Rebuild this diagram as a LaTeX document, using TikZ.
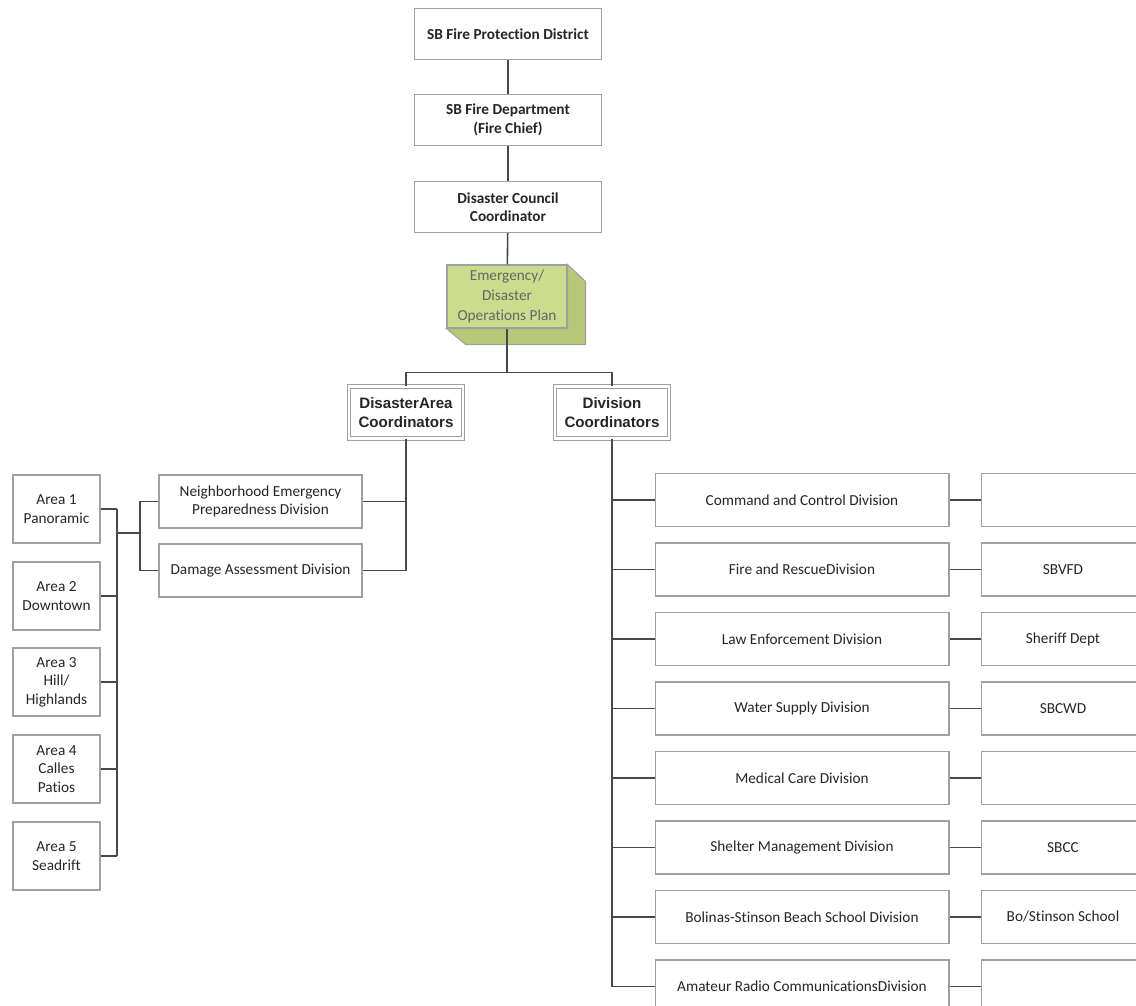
\documentclass[tikz,border=0pt]{standalone}
\usepackage{fontspec}
\setmainfont{Carlito}[Ligatures=NoCommon]
\newfontfamily\arialfont{Liberation Sans}
\definecolor{planfill}{HTML}{CCDC8E}
\definecolor{planside}{HTML}{B6C878}
\definecolor{boxline}{HTML}{A0A0A0}
\definecolor{linkline}{HTML}{484848}

\begin{document}
\begin{tikzpicture}[x=0.02cm,y=-0.02cm,
  font=\fontsize{8.7}{10.6}\selectfont,
  box/.style={draw=boxline,line width=0.6pt,fill=white,align=center,inner sep=1pt,text=black!85},
  headbox/.style={box,font=\fontsize{8.7}{10.6}\selectfont\bfseries,minimum width=3.74cm,minimum height=1.02cm},
  coordbox/.style={box,double=white,double distance=1.4pt,font=\fontsize{8.6}{10.4}\selectfont\arialfont\bfseries,minimum width=2.28cm,minimum height=1.04cm},
  areabox/.style={box,minimum width=1.74cm,minimum height=1.36cm},
  teambox/.style={box,minimum width=4.06cm,minimum height=1.06cm},
  divbox/.style={box,minimum width=5.88cm,minimum height=1.06cm},
  agencybox/.style={box,minimum width=3.28cm,minimum height=1.06cm},
  link/.style={draw=linkline,line width=0.9pt}]

  \clip (0,0) rectangle (1136,1005);
  \fill[white] (0,0) rectangle (1136,1005);

  \node[headbox] (district) at (508,34) {SB Fire Protection District};
  \node[headbox] (chief) at (508,120) {SB Fire Department\\(Fire Chief)};
  \node[headbox] (council) at (508,207) {Disaster Council\\Coordinator};

  \node[draw=boxline,fill=planfill,line width=0.6pt,minimum width=2.4cm,minimum height=1.26cm,
    align=center,inner sep=1pt,text=black!60,font=\fontsize{8.7}{11.5}\selectfont] (plan) at (507,296.5)
    {Emergency/\\Disaster\\Operations Plan};
  \filldraw[fill=planside,draw=boxline,line width=0.6pt] (plan.north east) -- ++(18,17) -- ++(0,63)
    -- ++(-120,0) -- (plan.south west) -- (plan.south east) -- cycle;

  \node[coordbox] (areahead) at (406,412.5) {DisasterArea\\Coordinators};
  \node[coordbox] (divhead) at (612,412.5) {Division\\Coordinators};

  \draw[link] (district) -- (chief);
  \draw[link] (chief) -- (council);
  \draw[link] (council) -- (plan);
  \draw[link] (plan.south) -- ++(0,44) coordinate (fork);
  \draw[link] (areahead.north) |- (fork) -| (divhead.north);

  \node[teambox] (nepd) at (260.5,501.5) {Neighborhood Emergency\\Preparedness Division};
  \node[teambox] (damage) at (260.5,570.5) {Damage Assessment Division};
  \draw[link] (areahead.south) |- (damage.east);
  \draw[link] (nepd.east) -- (nepd.east -| areahead.south);

  \node[areabox] (area1) at (56.5,509) {Area 1\\Panoramic};
  \node[areabox] (area2) at (56.5,596) {Area 2\\Downtown};
  \node[areabox] (area3) at (56.5,682) {Area 3\\Hill/\\Highlands};
  \node[areabox] (area4) at (56.5,769) {Area 4\\Calles\\Patios};
  \node[areabox] (area5) at (56.5,856) {Area 5\\Seadrift};

  \coordinate (teamfork) at (140,533);
  \draw[link] (nepd.west) -| (teamfork) |- (damage.west);
  \draw[link] (teamfork) -- ++(-23,0) coordinate (areabus);
  \draw[link] (area1.east -| areabus) -- (area5.east -| areabus);
  \foreach \i in {1,...,5}
    \draw[link] (area\i.east) -- (area\i.east -| areabus);

  \foreach \i/\division/\agency in {0/Command and Control Division/{},
      1/Fire and RescueDivision/SBVFD, 2/Law Enforcement Division/Sheriff Dept,
      3/Water Supply Division/SBCWD, 4/Medical Care Division/{},
      5/Shelter Management Division/SBCC, 6/Bolinas-Stinson Beach School Division/{Bo/Stinson School},
      7/Amateur Radio CommunicationsDivision/{}} {
    \node[divbox] (div\i) at (802,500+69.5*\i) {\division};
    \node[agencybox] (agency\i) at (1063,500+69.5*\i) {\agency};
    \draw[link] (div\i) -- (agency\i);
    \draw[link] (div\i.west) -- (div\i.west -| divhead.south);
  }
  \draw[link] (divhead.south) -- (divhead.south |- div7.west);

\end{tikzpicture}
\end{document}
